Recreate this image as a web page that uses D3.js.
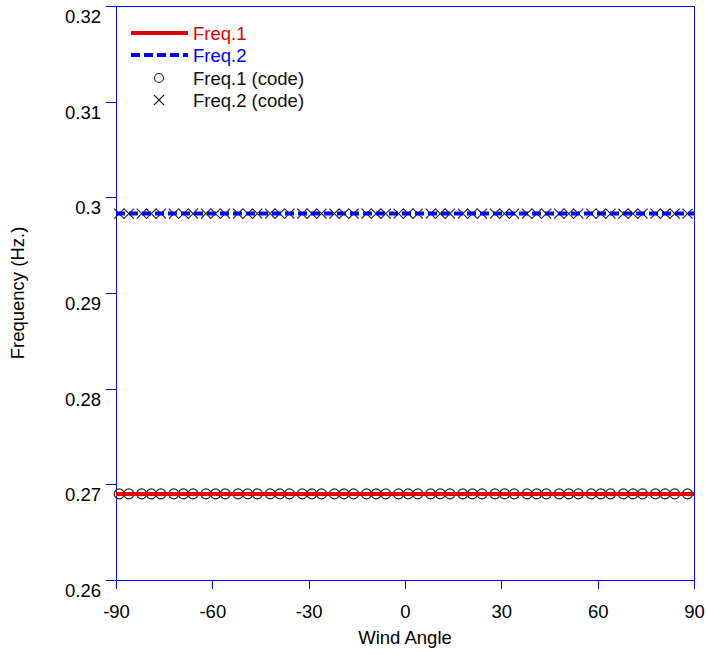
<!DOCTYPE html>
<html>
<head>
<meta charset="utf-8">
<script src="https://cdn.jsdelivr.net/npm/d3@7"></script>
<style>
body { margin: 0; background: #fff; }
text { font-family: "Liberation Sans", Arial, sans-serif; }
</style>
</head>
<body>
<svg width="707" height="657"></svg>
<script>
// data
var angles = [-89, -86, -82, -79, -76, -72, -69, -66, -62, -59, -56, -52, -49, -46, -42, -39, -36, -32,
  -29, -26, -22, -19, -16, -12, -9, -6, -2, 1, 4, 8, 11, 14, 18, 21, 24, 28, 31, 34, 38, 41, 44, 48,
  51, 54, 58, 61, 64, 68, 71, 74, 78, 81, 84, 88];
var freq1Code = [0.269, 0.269, 0.269, 0.269, 0.269, 0.269, 0.269, 0.269, 0.269, 0.269, 0.269, 0.269,
  0.269, 0.269, 0.269, 0.269, 0.269, 0.269, 0.269, 0.269, 0.269, 0.269, 0.269, 0.269, 0.269, 0.269,
  0.269, 0.269, 0.269, 0.269, 0.269, 0.269, 0.269, 0.269, 0.269, 0.269, 0.269, 0.269, 0.269, 0.269,
  0.269, 0.269, 0.269, 0.269, 0.269, 0.269, 0.269, 0.269, 0.269, 0.269, 0.269, 0.269, 0.269, 0.269];
var freq2Code = [0.2983, 0.2983, 0.2983, 0.2983, 0.2983, 0.2983, 0.2983, 0.2983, 0.2983, 0.2983,
  0.2983, 0.2983, 0.2983, 0.2983, 0.2983, 0.2983, 0.2983, 0.2983, 0.2983, 0.2983, 0.2983, 0.2983,
  0.2983, 0.2983, 0.2983, 0.2983, 0.2983, 0.2983, 0.2983, 0.2983, 0.2983, 0.2983, 0.2983, 0.2983,
  0.2983, 0.2983, 0.2983, 0.2983, 0.2983, 0.2983, 0.2983, 0.2983, 0.2983, 0.2983, 0.2983, 0.2983,
  0.2983, 0.2983, 0.2983, 0.2983, 0.2983, 0.2983, 0.2983, 0.2983];
var lineAngles = [-90, 90];
var freq1 = [0.269, 0.269];
var freq2 = [0.2983, 0.2983];
var xTicks = [-90, -60, -30, 0, 30, 60, 90];
var yTicks = [0.26, 0.27, 0.28, 0.29, 0.30, 0.31, 0.32];
var legendLabels = ["Freq.1", "Freq.2", "Freq.1 (code)", "Freq.2 (code)"];

var svg = d3.select("svg");
var pLeft = 116, pRight = 694, pTop = 6, pBottom = 580;
var fs = "18.5px";
var red = "#e00000", blue = "#0000ee", axisBlue = "#0000ff";

var x = d3.scaleLinear().domain([-90, 90]).range([pLeft, pRight]);
var y = d3.scaleLinear().domain([0.26, 0.32]).range([pBottom, pTop]);

// frame
svg.append("rect").attr("x", pLeft).attr("y", pTop)
  .attr("width", pRight - pLeft).attr("height", pBottom - pTop)
  .style("fill", "none").style("stroke", axisBlue).style("stroke-width", 1)
  .attr("shape-rendering", "crispEdges");

// axes (labels sit a bit below their ticks, like the original)
var xAxis = svg.append("g").attr("transform", "translate(0," + pBottom + ")")
  .call(d3.axisBottom(x).tickValues(xTicks).tickSize(9).tickFormat(function(d) { return String(d); }));
var yAxis = svg.append("g").attr("transform", "translate(" + pLeft + ",0)")
  .call(d3.axisLeft(y).tickValues(yTicks).tickSize(10).tickFormat(function(d) { return String(+d.toFixed(2)); }));
[xAxis, yAxis].forEach(function(g) {
  g.select(".domain").remove();
  g.selectAll("line").style("stroke", axisBlue).attr("shape-rendering", "crispEdges");
  g.selectAll("text").style("font-size", fs).style("fill", "#000")
    .style("font-family", '"Liberation Sans", Arial, sans-serif');
});
yAxis.selectAll("text").attr("x", -15).attr("y", 16.5).attr("dy", 0);
xAxis.selectAll("text").attr("y", 38).attr("dy", 0);

svg.append("text").attr("x", (pLeft + pRight) / 2).attr("y", 644)
  .attr("text-anchor", "middle").style("font-size", fs).text("Wind Angle");
svg.append("text").attr("transform", "translate(24," + (pTop + pBottom) / 2 + ") rotate(-90)")
  .attr("text-anchor", "middle").style("font-size", fs).text("Frequency (Hz.)");

// markers
svg.append("g").selectAll("circle").data(angles).enter().append("circle")
  .attr("cx", function(d) { return x(d); })
  .attr("cy", function(d, i) { return y(freq1Code[i]); })
  .attr("r", 5).style("fill", "none").style("stroke", "#222").style("stroke-width", 1.2);

var cross = function(cx, cy, s) {
  return "M" + (cx - s) + "," + (cy - s) + "L" + (cx + s) + "," + (cy + s) +
    "M" + (cx - s) + "," + (cy + s) + "L" + (cx + s) + "," + (cy - s);
};
svg.append("g").selectAll("path").data(angles).enter().append("path")
  .attr("d", function(d, i) { return cross(x(d), y(freq2Code[i]), 5); })
  .style("fill", "none").style("stroke", "#222").style("stroke-width", 1.1);

// lines
var line = d3.line().x(function(d) { return x(d[0]); }).y(function(d) { return y(d[1]); });
svg.append("path").datum(d3.zip(lineAngles, freq1)).attr("d", line)
  .style("fill", "none").style("stroke", red).style("stroke-width", 4);
svg.append("path").datum(d3.zip(lineAngles, freq2)).attr("d", line)
  .style("fill", "none").style("stroke", blue).style("stroke-width", 4)
  .style("stroke-dasharray", "9,4");

// legend
var lg = svg.append("g");
var rowY = [33, 55, 78, 100];
lg.append("line").attr("x1", 131).attr("x2", 188).attr("y1", rowY[0]).attr("y2", rowY[0])
  .style("stroke", red).style("stroke-width", 4);
lg.append("line").attr("x1", 131).attr("x2", 188).attr("y1", rowY[1]).attr("y2", rowY[1])
  .style("stroke", blue).style("stroke-width", 4).style("stroke-dasharray", "9,4");
lg.append("circle").attr("cx", 159).attr("cy", rowY[2]).attr("r", 4.5)
  .style("fill", "none").style("stroke", "#222").style("stroke-width", 1.1);
lg.append("path").attr("d", cross(159, rowY[3], 5))
  .style("fill", "none").style("stroke", "#222").style("stroke-width", 1.1);
var legendColors = [red, blue, "#111", "#111"];
lg.selectAll("text").data(legendLabels).enter().append("text")
  .attr("x", 193).attr("y", function(d, i) { return rowY[i] + 6.5; })
  .style("font-size", fs).style("fill", function(d, i) { return legendColors[i]; })
  .text(function(d) { return d; });
</script>
</body>
</html>
